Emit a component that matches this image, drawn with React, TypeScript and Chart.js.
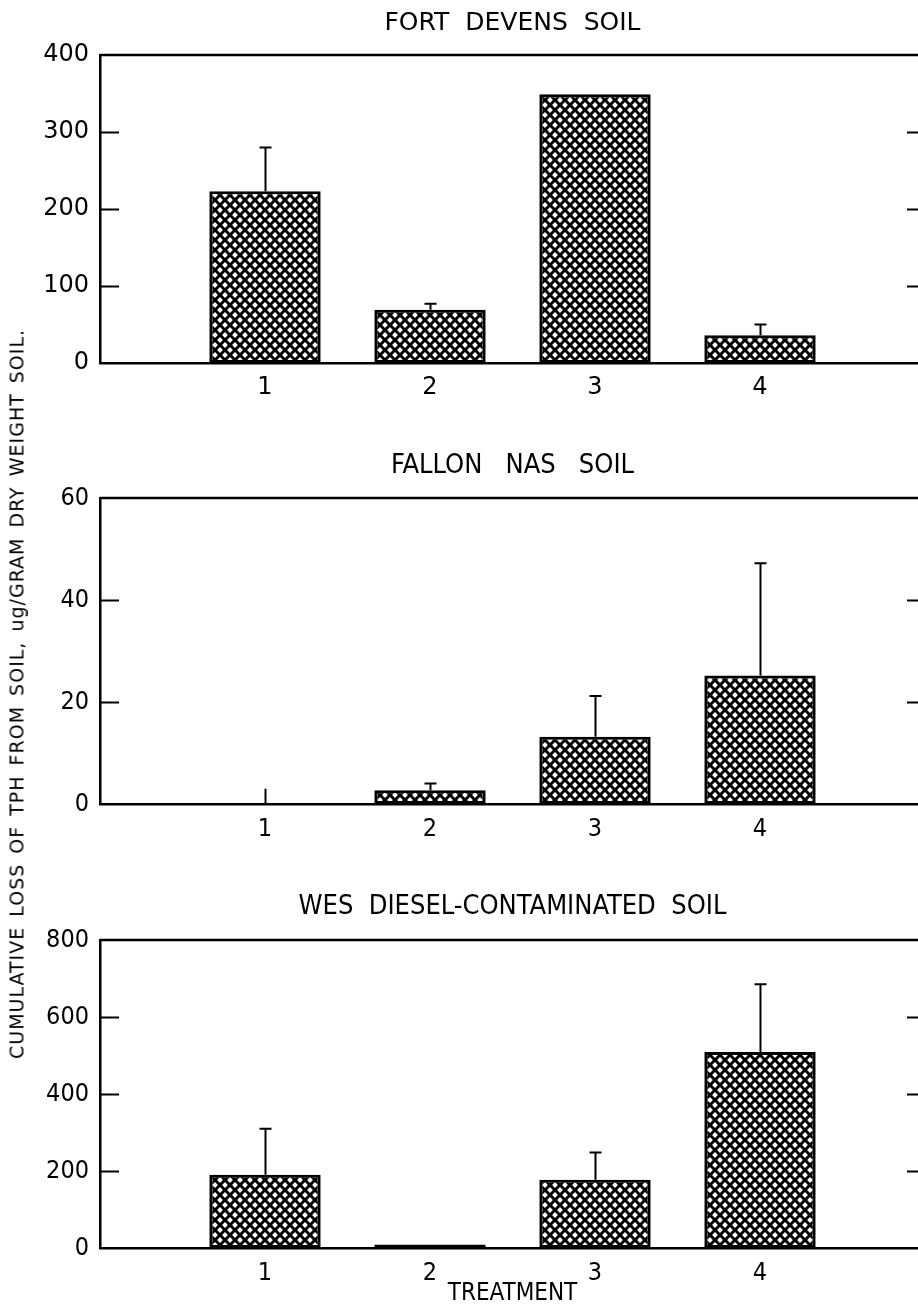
import React, { useEffect, useRef } from 'react';
import { Chart, registerables } from 'chart.js';

Chart.register(...registerables);

// ---------- data ----------
const categories = ['0', '1', '2', '3', '4', '5'];
const treatmentLabels = ['', '1', '2', '3', '4', ''];

const fortDevensTitle = 'FORT  DEVENS  SOIL';
const fortDevensValues = [null, 223, 69, 349, 36, null];
const fortDevensErrors = [0, 57, 8, 0, 14, 0];
const fortDevensYTicks = [0, 100, 200, 300, 400];

const fallonTitle = 'FALLON   NAS   SOIL';
const fallonValues = [null, 0, 2.7, 13.2, 25.2, null];
const fallonErrors = [0, 3, 1.3, 8, 22, 0];
const fallonYTicks = [0, 20, 40, 60];

const wesTitle = 'WES  DIESEL-CONTAMINATED  SOIL';
const wesValues = [null, 190, 9, 177, 509, null];
const wesErrors = [0, 120, 0, 71, 176, 0];
const wesYTicks = [0, 200, 400, 600, 800];

const yAxisLabel = 'CUMULATIVE LOSS OF TPH FROM SOIL, ug/GRAM DRY WEIGHT SOIL.';
const xAxisLabel = 'TREATMENT';

// ---------- styling ----------
const FONT_REG = "'DejaVu Sans', 'Liberation Sans', sans-serif";
const FONT_COND = "'DejaVu Sans Condensed', 'Liberation Sans Narrow', 'DejaVu Sans', sans-serif";

function makePattern(): CanvasPattern | string {
  const t = document.createElement('canvas');
  t.width = 10;
  t.height = 10;
  const c = t.getContext('2d');
  if (!c) return '#000';
  c.fillStyle = '#000';
  c.fillRect(0, 0, 10, 10);
  c.fillStyle = '#fff';
  const r = 2.9;
  const centers = [[0, 0], [10, 0], [0, 10], [10, 10], [5, 5]];
  for (const [cx, cy] of centers) {
    c.beginPath();
    c.moveTo(cx, cy - r);
    c.lineTo(cx + r, cy);
    c.lineTo(cx, cy + r);
    c.lineTo(cx - r, cy);
    c.closePath();
    c.fill();
  }
  const p = c.createPattern(t, 'repeat');
  return p || '#000';
}

const framePlugin = {
  id: 'frameTicks',
  afterDraw(chart: any) {
    const { ctx, chartArea } = chart;
    const y = chart.scales.y;
    ctx.save();
    ctx.strokeStyle = '#000';
    ctx.lineWidth = 2.5;
    ctx.beginPath();
    ctx.moveTo(chartArea.left, chartArea.top);
    ctx.lineTo(chartArea.right, chartArea.top);
    ctx.lineTo(chartArea.right, chartArea.bottom);
    ctx.stroke();
    ctx.lineWidth = 2;
    for (const t of y.ticks) {
      if (t.value <= y.min || t.value >= y.max) continue;
      const py = Math.round(y.getPixelForValue(t.value)) + 0.5;
      ctx.beginPath();
      ctx.moveTo(chartArea.left, py);
      ctx.lineTo(chartArea.left + 19, py);
      ctx.moveTo(chartArea.right - 18, py);
      ctx.lineTo(chartArea.right, py);
      ctx.stroke();
    }
    ctx.restore();
  },
};

function makeErrorPlugin(values: (number | null)[], errors: number[]) {
  return {
    id: 'errorBars',
    afterDatasetsDraw(chart: any) {
      const { ctx } = chart;
      const y = chart.scales.y;
      const meta = chart.getDatasetMeta(0);
      ctx.save();
      ctx.strokeStyle = '#000';
      ctx.lineWidth = 2;
      values.forEach((v, i) => {
        const e = errors[i];
        if (v === null || !e || e <= 0) return;
        const el = meta.data[i];
        if (!el) return;
        const x = Math.round(el.x) + 0.5;
        const y0 = y.getPixelForValue(v);
        const y1 = y.getPixelForValue(v + e);
        ctx.beginPath();
        ctx.moveTo(x, y0);
        ctx.lineTo(x, y1);
        if (v > 0) {
          ctx.moveTo(x - 6, y1);
          ctx.lineTo(x + 6, y1);
        }
        ctx.stroke();
      });
      ctx.restore();
    },
  };
}

type PanelSpec = {
  title: string;
  values: (number | null)[];
  errors: number[];
  yTicks: number[];
  font: string;
  titleSize: number;
  tickSize: number;
  height: number;
  titleTop: number;
  titleBottom: number;
  xHeight: number;
  xPad: number;
  xTitle?: string;
};

function buildChart(canvas: HTMLCanvasElement, p: PanelSpec) {
  const pattern = makePattern();
  const yMax = p.yTicks[p.yTicks.length - 1];
  const step = p.yTicks[1] - p.yTicks[0];
  return new Chart(canvas, {
    type: 'bar',
    data: {
      labels: categories,
      datasets: [
        {
          data: p.values as any,
          backgroundColor: pattern as any,
          borderColor: '#000',
          borderWidth: 3,
          borderSkipped: false,
          barPercentage: 0.675,
          categoryPercentage: 1,
        },
      ],
    },
    options: {
      responsive: false,
      animation: false,
      devicePixelRatio: 1,
      layout: { padding: { left: 0, right: 15, top: 0, bottom: 0 } },
      plugins: {
        legend: { display: false },
        tooltip: { enabled: false },
        title: {
          display: true,
          text: p.title,
          fullSize: false,
          color: '#000',
          font: { family: p.font, size: p.titleSize, weight: 'normal', lineHeight: 1.2 },
          padding: { top: p.titleTop, bottom: p.titleBottom },
        },
      },
      scales: {
        x: {
          type: 'category',
          offset: false,
          grid: { display: false, drawTicks: false },
          border: { display: true, color: '#000', width: 2.5 },
          ticks: {
            color: '#000',
            font: { family: p.font, size: p.tickSize, lineHeight: 1.2 },
            padding: p.xPad,
            autoSkip: false,
            maxRotation: 0,
            callback: (_v: any, i: number) => treatmentLabels[i],
          },
          title: p.xTitle
            ? {
                display: true,
                text: p.xTitle,
                color: '#000',
                font: { family: p.font, size: 24, lineHeight: 1.1 },
                padding: { top: 0, bottom: 0 },
              }
            : { display: false },
          afterFit: (s: any) => {
            s.height = p.xHeight;
          },
        },
        y: {
          min: 0,
          max: yMax,
          ticks: {
            stepSize: step,
            color: '#000',
            font: { family: p.font, size: p.tickSize, lineHeight: 1.2 },
            padding: 11,
          },
          grid: { display: false, drawTicks: false },
          border: { display: true, color: '#000', width: 2.5 },
          afterFit: (s: any) => {
            s.width = 100;
          },
        },
      },
    } as any,
    plugins: [framePlugin, makeErrorPlugin(p.values, p.errors)],
  });
}

function Panel({ spec, top }: { spec: PanelSpec; top: number }) {
  const ref = useRef<HTMLCanvasElement | null>(null);
  useEffect(() => {
    if (!ref.current) return;
    const chart = buildChart(ref.current, spec);
    return () => chart.destroy();
  }, [spec]);
  return (
    <canvas
      ref={ref}
      width={940}
      height={spec.height}
      style={{ position: 'absolute', left: 0, top, width: 940, height: spec.height }}
    />
  );
}

const panel1: PanelSpec = {
  title: fortDevensTitle,
  values: fortDevensValues,
  errors: fortDevensErrors,
  yTicks: fortDevensYTicks,
  font: FONT_REG,
  titleSize: 25,
  tickSize: 24,
  height: 420,
  titleTop: 8,
  titleBottom: 17,
  xHeight: 57,
  xPad: 10,
};

const panel2: PanelSpec = {
  title: fallonTitle,
  values: fallonValues,
  errors: fallonErrors,
  yTicks: fallonYTicks,
  font: FONT_COND,
  titleSize: 27,
  tickSize: 25,
  height: 440,
  titleTop: 30,
  titleBottom: 15.6,
  xHeight: 56,
  xPad: 10,
};

const panel3: PanelSpec = {
  title: wesTitle,
  values: wesValues,
  errors: wesErrors,
  yTicks: wesYTicks,
  font: FONT_COND,
  titleSize: 27,
  tickSize: 25,
  height: 447,
  titleTop: 31,
  titleBottom: 16.6,
  xHeight: 59,
  xPad: 10,
  xTitle: xAxisLabel,
};

export default function App() {
  return (
    <div
      style={{
        position: 'fixed',
        left: 0,
        top: 0,
        width: 918,
        height: 1307,
        overflow: 'hidden',
        background: '#fff',
      }}
    >
      <Panel spec={panel1} top={0} />
      <Panel spec={panel2} top={420} />
      <Panel spec={panel3} top={860} />
      <div
        style={{
          position: 'absolute',
          left: 17,
          top: 694,
          transform: 'translate(-50%, -50%) rotate(-90deg)',
          whiteSpace: 'pre',
          fontFamily: FONT_REG,
          fontSize: 19,
          letterSpacing: 1,
          wordSpacing: 3,
          color: '#000',
          lineHeight: 1,
        }}
      >
        {yAxisLabel}
      </div>
    </div>
  );
}
